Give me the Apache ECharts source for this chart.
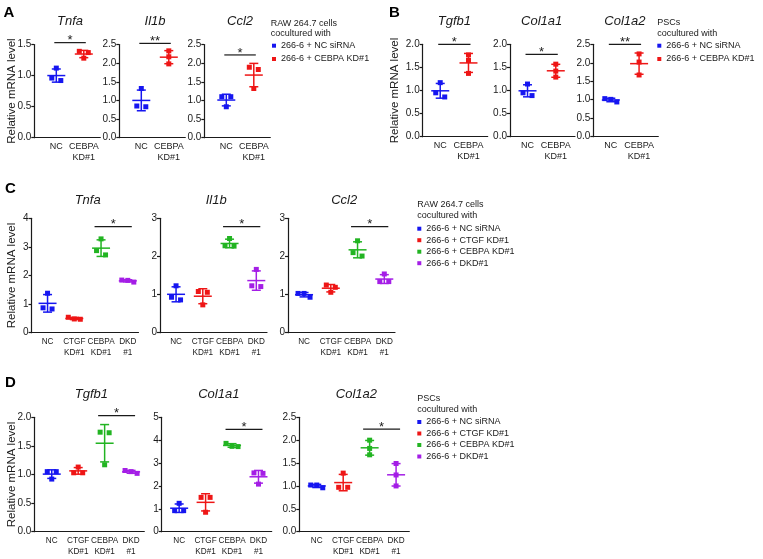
<!DOCTYPE html>
<html><head><meta charset="utf-8">
<script src="https://cdn.jsdelivr.net/npm/echarts@6/dist/echarts.min.js"></script>
<style>html,body{margin:0;padding:0;background:#fff}#c{width:763px;height:559px}</style>
</head><body><div id="c"></div>
<script>
// ---------------- data ----------------
const catsAB = ['NC', 'CEBPA\nKD#1'];
const catsCD = ['NC', 'CTGF\nKD#1', 'CEBPA\nKD#1', 'DKD\n#1'];
const groupsAB = ['266-6 + NC siRNA', '266-6 + CEBPA KD#1'];
const groupsCD = ['266-6 + NC siRNA', '266-6 + CTGF KD#1', '266-6 + CEBPA KD#1', '266-6 + DKD#1'];
const legendTitleRAW = 'RAW 264.7 cells\ncocultured with';
const legendTitlePSC = 'PSCs\ncocultured with';
const yAxisName = 'Relative mRNA level';

// Panel A (RAW 264.7)
const genesA = ['Tnfa', 'Il1b', 'Ccl2'];
const A_Tnfa = [[1.12, 0.92, 0.96], [1.39, 1.37, 1.28]];
const A_Il1b = [[1.32, 0.83, 0.85], [2.33, 2.17, 1.98]];
const A_Ccl2 = [[1.10, 1.10, 0.83], [1.89, 1.83, 1.32]];
const A_yMax = [1.5, 2.5, 2.5];
const A_yStep = [0.5, 0.5, 0.5];
const A_yDec = [1, 1, 1];
const A_sig = [[0, 1, 1.53, 1], [0, 1, 2.53, 2], [0, 1, 2.22, 1]]; // from, to, level, stars

// Panel B (PSCs)
const genesB = ['Tgfb1', 'Col1a1', 'Col1a2'];
const B_Tgfb1 = [[1.17, 0.86, 0.95], [1.77, 1.65, 1.37]];
const B_Col1a1 = [[1.14, 0.89, 0.95], [1.57, 1.42, 1.29]];
const B_Col1a2 = [[1.03, 0.94, 1.01], [2.24, 2.02, 1.67]];
const B_yMax = [2.0, 2.0, 2.5];
const B_yStep = [0.5, 0.5, 0.5];
const B_yDec = [1, 1, 1];
const B_sig = [[0, 1, 2.0, 1], [0, 1, 1.78, 1], [0, 1, 2.5, 2]];

// Panel C (RAW 264.7, 4 groups)
const genesC = ['Tnfa', 'Il1b', 'Ccl2'];
const C_Tnfa = [[1.38, 0.83, 0.87], [0.47, 0.54, 0.48], [3.28, 2.72, 2.87], [1.77, 1.84, 1.83]];
const C_Il1b = [[1.23, 0.86, 0.93], [1.06, 1.08, 0.73], [2.47, 2.27, 2.28], [1.66, 1.21, 1.23]];
const C_Ccl2 = [[0.93, 1.03, 1.03], [1.25, 1.19, 1.06], [2.41, 2.01, 2.10], [1.54, 1.34, 1.34]];
const C_yMax = [4, 3, 3];
const C_yStep = [1, 1, 1];
const C_yDec = [0, 0, 0];
const C_sig = [[2, 3, 3.71, 1], [2, 3, 2.78, 1], [2, 3, 2.78, 1]];

// Panel D (PSCs, 4 groups)
const genesD = ['Tgfb1', 'Col1a1', 'Col1a2'];
const D_Tgfb1 = [[1.05, 1.05, 0.92], [1.13, 1.03, 1.03], [1.74, 1.73, 1.17], [1.02, 1.07, 1.05]];
const D_Col1a1 = [[1.24, 0.92, 0.92], [1.50, 1.50, 0.85], [3.86, 3.73, 3.72], [2.57, 2.55, 2.08]];
const D_Col1a2 = [[0.96, 1.02, 1.02], [1.28, 0.97, 0.97], [2.00, 1.82, 1.68], [1.49, 1.24, 1.00]];
const D_yMax = [2.0, 5, 2.5];
const D_yStep = [0.5, 1, 0.5];
const D_yDec = [1, 0, 1];
const D_sig = [[2, 3, 2.03, 1], [2, 3, 4.47, 1], [2, 3, 2.24, 1]];

// ---------------- style ----------------
const FONT = "'Liberation Sans', Arial, Helvetica, sans-serif";
const INK = '#1a1a1a';
const BLUE = '#1616f0', RED = '#ee1616', GREEN = '#22b422', PURPLE = '#a41ee6';
const colorsAB = [BLUE, RED];
const colorsCD = [BLUE, RED, GREEN, PURPLE];

const panels = [
  { letter: 'A', genes: genesA, cats: catsAB, groups: groupsAB, colors: colorsAB,
    values: [A_Tnfa, A_Il1b, A_Ccl2], yMax: A_yMax, yStep: A_yStep, yDec: A_yDec, sig: A_sig, head: legendTitleRAW,
    L: { left: [34.3, 119.3, 204.3], top: 44.5, height: 93.2, width: 66, xMin: -0.8, xMax: 1.6, xFont: 9,
         titleY: 21.7, letterX: 3.5, letterY: 13, nameX: 12, legLeft: 272, legTop: 41.2, legGap: 4.3,
         headX: 270.7, headY: 24, headLH: 10, ext: [2, 2] } },
  { letter: 'B', genes: genesB, cats: catsAB, groups: groupsAB, colors: colorsAB,
    values: [B_Tgfb1, B_Col1a1, B_Col1a2], yMax: B_yMax, yStep: B_yStep, yDec: B_yDec, sig: B_sig, head: legendTitlePSC,
    L: { left: [422.7, 510, 593.3], top: 44.3, height: 92.4, width: 65, xMin: -0.62, xMax: 1.68, xFont: 9,
         titleY: 21.7, letterX: 389, letterY: 12.5, nameX: 395, legLeft: 657.3, legTop: 41.2, legGap: 4.3,
         headX: 657.3, headY: 22.7, headLH: 10.6, ext: [2, 2] } },
  { letter: 'C', genes: genesC, cats: catsCD, groups: groupsCD, colors: colorsCD,
    values: [C_Tnfa, C_Il1b, C_Ccl2], yMax: C_yMax, yStep: C_yStep, yDec: C_yDec, sig: C_sig, head: legendTitleRAW,
    L: { left: [31.5, 160, 288], top: 218.3, height: 114.4, width: 107, xMin: -0.6, xMax: 3.4, xFont: 8.2,
         titleY: 200.7, letterX: 5, letterY: 189, nameX: 11.7, legLeft: 417.3, legTop: 224.2, legGap: 2.5,
         headX: 417.3, headY: 204.3, headLH: 11, ext: [6.5, 4] } },
  { letter: 'D', genes: genesD, cats: catsCD, groups: groupsCD, colors: colorsCD,
    values: [D_Tgfb1, D_Col1a1, D_Col1a2], yMax: D_yMax, yStep: D_yStep, yDec: D_yDec, sig: D_sig, head: legendTitlePSC,
    L: { left: [34.3, 161.7, 299.3], top: 417.3, height: 114.4, width: 110, xMin: -0.66, xMax: 3.5, xFont: 8.2,
         titleY: 394.3, letterX: 5, letterY: 382.5, nameX: 12, legLeft: 417.3, legTop: 417.5, legGap: 2.5,
         headX: 417.3, headY: 398.7, headLH: 11, ext: [6.5, 4] } }
];

const MARK = 5, MEAN_HALF = 9, CAP_HALF = 4.5, LW = 1.5;

function stats(arr) {
  const n = arr.length;
  const m = arr.reduce((a, b) => a + b, 0) / n;
  const sd = Math.sqrt(arr.reduce((a, b) => a + (b - m) * (b - m), 0) / (n - 1));
  return [m, sd];
}

function makeGroupRender(color) {
  return function (params, api) {
    const ci = api.value(0), m = api.value(1), sd = api.value(2);
    const pts = [api.value(3), api.value(4), api.value(5)];
    const cm = api.coord([ci, m]);
    const cx = cm[0];
    const yt = api.coord([ci, m + sd])[1];
    const yb = api.coord([ci, m - sd])[1];
    // beeswarm-like placement of overlapping points
    const pys = pts.map(v => api.coord([ci, v])[1]);
    const order = pys.map((y, i) => i).sort((a, b) => pys[a] - pys[b]);
    const rows = [];
    order.forEach(i => {
      const r = rows[rows.length - 1];
      if (r && Math.abs(pys[i] - pys[r[0]]) < 5.5) r.push(i); else rows.push([i]);
    });
    const children = [];
    rows.forEach(r => {
      const n = r.length, d = n === 2 ? 9 : 6;
      r.forEach((i, j) => {
        const off = (j - (n - 1) / 2) * d;
        children.push({ type: 'rect', shape: { x: cx + off - MARK / 2, y: pys[i] - MARK / 2, width: MARK, height: MARK },
          style: { fill: color } });
      });
    });
    const ls = { stroke: color, lineWidth: LW };
    children.push({ type: 'line', shape: { x1: cx - MEAN_HALF, y1: cm[1], x2: cx + MEAN_HALF, y2: cm[1] }, style: ls });
    children.push({ type: 'line', shape: { x1: cx, y1: yt, x2: cx, y2: yb }, style: ls });
    children.push({ type: 'line', shape: { x1: cx - CAP_HALF, y1: yt, x2: cx + CAP_HALF, y2: yt }, style: ls });
    children.push({ type: 'line', shape: { x1: cx - CAP_HALF, y1: yb, x2: cx + CAP_HALF, y2: yb }, style: ls });
    return { type: 'group', children };
  };
}

function makeSigRender(ext) {
  return function (params, api) {
    const a = api.coord([api.value(0), api.value(2)]);
    const b = api.coord([api.value(1), api.value(2)]);
    const x1 = a[0] - ext[0], x2 = b[0] + ext[1], y = a[1];
    return { type: 'group', children: [
      { type: 'line', shape: { x1, y1: y, x2, y2: y }, style: { stroke: INK, lineWidth: 1.2 } },
      { type: 'text', x: (x1 + x2) / 2, y: y - 2,
        style: { text: '*'.repeat(api.value(3)), fontSize: 13, fontFamily: FONT, fill: INK, align: 'center', verticalAlign: 'middle' } }
    ] };
  };
}

const grid = [], xAxis = [], yAxis = [], series = [], legend = [], graphic = [];
const axisLineStyle = { color: INK, width: 1.2 };

panels.forEach(p => {
  const L = p.L;
  for (let g = 0; g < 3; g++) {
    const gi = grid.length;
    grid.push({ left: L.left[g], top: L.top, width: L.width, height: L.height, containLabel: false, outerBoundsMode: 'none' });
    const cats = p.cats;
    xAxis.push({ type: 'value', gridIndex: gi, min: L.xMin, max: L.xMax,
      axisLine: { show: true, onZero: false, lineStyle: axisLineStyle },
      axisTick: { show: false }, splitLine: { show: false },
      axisLabel: { customValues: cats.map((c, i) => i), formatter: v => cats[Math.round(v)] || '',
        fontSize: L.xFont, lineHeight: 10.5, margin: 4, color: INK, fontFamily: FONT } });
    const dec = p.yDec[g];
    yAxis.push({ type: 'value', gridIndex: gi, min: 0, max: p.yMax[g], interval: p.yStep[g],
      axisLine: { show: true, onZero: false, lineStyle: axisLineStyle },
      axisTick: { show: true, length: 3, lineStyle: axisLineStyle }, splitLine: { show: false },
      axisLabel: { formatter: v => v.toFixed(dec), fontSize: 10, margin: 3, color: INK, fontFamily: FONT } });
    p.values[g].forEach((pts, k) => {
      const st = stats(pts);
      series.push({ type: 'custom', name: p.groups[k], xAxisIndex: gi, yAxisIndex: gi,
        itemStyle: { color: p.colors[k] }, renderItem: makeGroupRender(p.colors[k]), silent: true,
        encode: { x: 0, y: 1 }, data: [[k, st[0], st[1]].concat(pts)] });
    });
    series.push({ type: 'custom', xAxisIndex: gi, yAxisIndex: gi, silent: true, renderItem: makeSigRender(L.ext),
      encode: { x: 0, y: 2 }, data: [p.sig[g]] });
    // gene title centred over the categories
    const mid = (cats.length - 1) / 2;
    const tx = L.left[g] + (mid - L.xMin) / (L.xMax - L.xMin) * L.width;
    graphic.push({ type: 'text', x: tx, y: L.titleY, silent: true,
      style: { text: p.genes[g], fontSize: 13, fontStyle: 'italic', fontFamily: FONT, fill: INK, align: 'center', verticalAlign: 'middle' } });
  }
  graphic.push({ type: 'text', x: L.letterX, y: L.letterY, silent: true,
    style: { text: p.letter, fontSize: 15, fontWeight: 'bold', fontFamily: FONT, fill: '#000', align: 'left', verticalAlign: 'middle' } });
  graphic.push({ type: 'text', x: L.nameX, y: L.top + L.height / 2, rotation: Math.PI / 2, silent: true,
    style: { text: yAxisName, fontSize: 11.5, fontFamily: FONT, fill: INK, align: 'center', verticalAlign: 'middle' } });
  graphic.push({ type: 'text', x: L.headX, y: L.headY - L.headLH / 2, silent: true,
    style: { text: p.head, fontSize: 9, lineHeight: L.headLH, fontFamily: FONT, fill: INK, align: 'left', verticalAlign: 'top' } });
  legend.push({ orient: 'vertical', left: L.legLeft, top: L.legTop, padding: 0, itemWidth: 4, itemHeight: 4,
    itemGap: L.legGap, icon: 'rect', selectedMode: false,
    textStyle: { fontSize: 9, color: INK, fontFamily: FONT },
    data: p.groups.map((n, k) => ({ name: n, itemStyle: { color: p.colors[k] } })) });
});

const chart = echarts.init(document.getElementById('c'), null, { renderer: 'canvas' });
chart.setOption({ animation: false, backgroundColor: '#fff', grid, xAxis, yAxis, series, legend, graphic });
</script></body></html>
